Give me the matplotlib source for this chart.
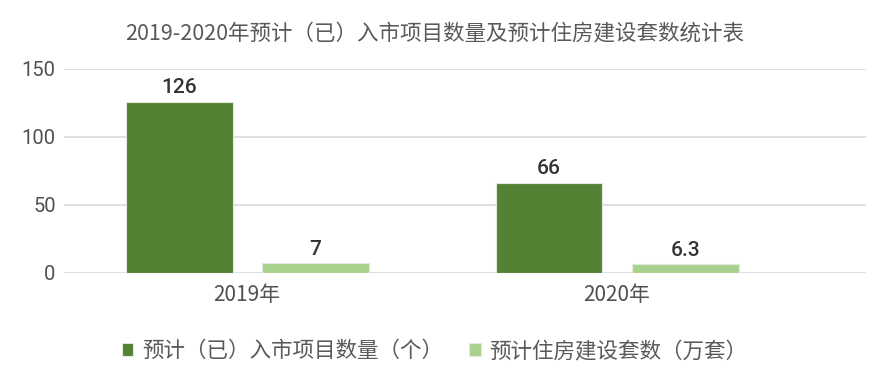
import numpy as np
import matplotlib; matplotlib.use("Agg")
import matplotlib.pyplot as plt

plt.rcParams["font.family"] = ["Roboto", "Noto Sans CJK SC", "DejaVu Sans"]
CJK = ["Noto Sans CJK SC", "DejaVu Sans"]

years = ["2019年", "2020年"]
projects = [126, 66]
houses = [7, 6.3]
series_names = ["预计（已）入市项目数量（个）", "预计住房建设套数（万套）"]
title = "2019-2020年预计（已）入市项目数量及预计住房建设套数统计表"

DARK = "#548235"; LIGHT = "#a9d18e"; TXT = "#404040"; GRID = "#d9d9d9"

fig = plt.figure(figsize=(8.69, 3.77), dpi=100)
ax = fig.add_axes([0.0737, 0.276, 0.9228, 0.541])

x = np.arange(len(years))
w = 0.289; off = 0.184
b1 = ax.bar(x - off, projects, w, color=DARK, edgecolor="#e2eadb", linewidth=0.8, label=series_names[0], zorder=3)
b2 = ax.bar(x + off, houses, w, color=LIGHT, edgecolor="#e2eadb", linewidth=0.8, label=series_names[1], zorder=3)
for bars, vals in ((b1, projects), (b2, houses)):
    for r, v in zip(bars, vals):
        ax.text(r.get_x() + r.get_width() / 2, v + 3.5, f"{v:g}", ha="center", va="bottom",
                fontsize=15, fontweight="medium", color="#333333", zorder=4)

ax.set_xlim(-0.495, 1.673)
ax.set_ylim(0, 150)
ax.set_yticks([0, 50, 100, 150])
ax.set_xticks(x)
ax.set_xticklabels(years, family=CJK, fontsize=15)
ax.tick_params(axis="both", length=0, colors="#505050")
ax.tick_params(axis="y", pad=6, labelsize=14.5)
ax.tick_params(axis="x", pad=8)
ax.grid(axis="y", color=GRID, linewidth=1.2, zorder=0)
for s in ax.spines.values():
    s.set_visible(False)

fig.text(0.5, 0.91, title, ha="center", va="center", fontsize=15.5, color="#595959", family=CJK)
fig.legend(handles=[b1, b2], labels=series_names, loc="center", bbox_to_anchor=(0.5, 0.068),
           ncol=2, frameon=False, prop={"family": CJK, "size": 15.5}, handlelength=0.55, handleheight=0.55,
           handletextpad=0.4, columnspacing=1.2, labelcolor="#595959")

fig.savefig("out.png", dpi=100)
